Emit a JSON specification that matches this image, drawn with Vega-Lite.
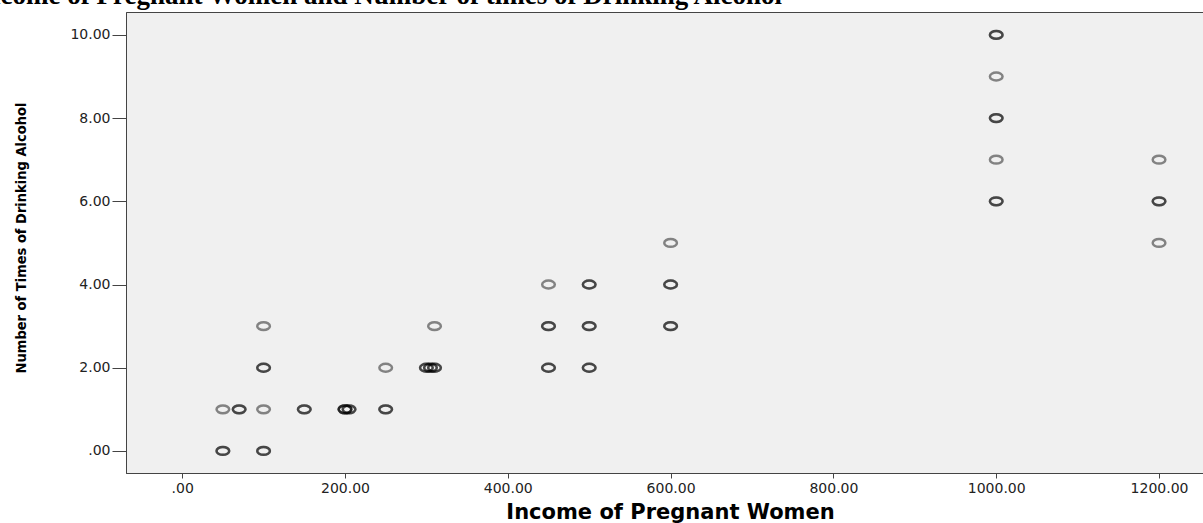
{
  "$schema": "https://vega.github.io/schema/vega-lite/v6.json",
  "width": 1077,
  "height": 461,
  "autosize": {"type": "none"},
  "padding": {"left": 126, "top": 12, "right": 0, "bottom": 50},
  "background": "white",
  "title": {
    "text": "Income of Pregnant Women and Number of times of Drinking Alcohol",
    "anchor": "start",
    "frame": "group",
    "font": "Liberation Serif",
    "fontSize": 27,
    "fontWeight": "bold",
    "color": "black",
    "baseline": "alphabetic",
    "offset": -19,
    "dx": -151
  },
  "config": {
    "view": {"fill": "#f0f0f0", "stroke": "#444", "strokeWidth": 1},
    "axis": {"grid": false}
  },
  "data": {
    "values": [
      {"income": 50, "drinks": 0}, {"income": 50, "drinks": 0},
      {"income": 100, "drinks": 0}, {"income": 100, "drinks": 0},
      {"income": 50, "drinks": 1},
      {"income": 70, "drinks": 1}, {"income": 70, "drinks": 1},
      {"income": 100, "drinks": 1},
      {"income": 150, "drinks": 1}, {"income": 150, "drinks": 1},
      {"income": 200, "drinks": 1}, {"income": 200, "drinks": 1}, {"income": 200, "drinks": 1},
      {"income": 205, "drinks": 1}, {"income": 205, "drinks": 1},
      {"income": 250, "drinks": 1}, {"income": 250, "drinks": 1},
      {"income": 100, "drinks": 2}, {"income": 100, "drinks": 2},
      {"income": 250, "drinks": 2},
      {"income": 300, "drinks": 2}, {"income": 300, "drinks": 2},
      {"income": 305, "drinks": 2}, {"income": 305, "drinks": 2},
      {"income": 310, "drinks": 2}, {"income": 310, "drinks": 2},
      {"income": 450, "drinks": 2}, {"income": 450, "drinks": 2},
      {"income": 500, "drinks": 2}, {"income": 500, "drinks": 2},
      {"income": 100, "drinks": 3},
      {"income": 310, "drinks": 3},
      {"income": 450, "drinks": 3}, {"income": 450, "drinks": 3},
      {"income": 500, "drinks": 3}, {"income": 500, "drinks": 3},
      {"income": 600, "drinks": 3}, {"income": 600, "drinks": 3},
      {"income": 450, "drinks": 4},
      {"income": 500, "drinks": 4}, {"income": 500, "drinks": 4},
      {"income": 600, "drinks": 4}, {"income": 600, "drinks": 4},
      {"income": 600, "drinks": 5},
      {"income": 1000, "drinks": 6}, {"income": 1000, "drinks": 6},
      {"income": 1200, "drinks": 6}, {"income": 1200, "drinks": 6},
      {"income": 1000, "drinks": 7},
      {"income": 1200, "drinks": 7},
      {"income": 1200, "drinks": 5},
      {"income": 1000, "drinks": 8}, {"income": 1000, "drinks": 8},
      {"income": 1000, "drinks": 9},
      {"income": 1000, "drinks": 10}, {"income": 1000, "drinks": 10}
    ]
  },
  "mark": {
    "type": "point",
    "shape": "M-1,0A1,0.62,0,1,0,1,0A1,0.62,0,1,0,-1,0Z",
    "filled": false,
    "stroke": "black",
    "strokeWidth": 2.5,
    "strokeOpacity": 0.65,
    "size": 160
  },
  "encoding": {
    "x": {
      "field": "income",
      "type": "quantitative",
      "scale": {"domain": [-69, 1254], "nice": false, "zero": false},
      "axis": {
        "values": [0, 200, 400, 600, 800, 1000, 1200],
        "labelExpr": "datum.value == 0 ? '.00' : format(datum.value, '.2f')",
        "domain": true,
        "domainColor": "#444",
        "tickColor": "#444",
        "tickSize": 5,
        "labelFont": "DejaVu Sans",
        "labelFontSize": 14,
        "labelColor": "#222",
        "labelPadding": 3,
        "title": "Income of Pregnant Women",
        "titleFont": "DejaVu Sans",
        "titleFontSize": 21,
        "titleFontWeight": "bold",
        "titleColor": "black",
        "titleX": 544,
        "titleY": 45,
        "titleAlign": "center",
        "titleBaseline": "alphabetic"
      }
    },
    "y": {
      "field": "drinks",
      "type": "quantitative",
      "scale": {"domain": [-0.53, 10.55], "nice": false, "zero": false},
      "axis": {
        "values": [0, 2, 4, 6, 8, 10],
        "labelExpr": "datum.value == 0 ? '.00' : format(datum.value, '.2f')",
        "domain": true,
        "domainColor": "#444",
        "tickColor": "#444",
        "tickSize": 14,
        "labelFont": "DejaVu Sans",
        "labelFontSize": 14,
        "labelColor": "#222",
        "labelPadding": 2,
        "title": "Number of Times  of Drinking Alcohol",
        "titleFont": "Liberation Sans Narrow, DejaVu Sans Condensed, Roboto",
        "titleFontSize": 14.5,
        "titleFontWeight": "bold",
        "titleColor": "black",
        "titleAngle": -90,
        "titleX": -101,
        "titleY": 225.5,
        "titleAlign": "center",
        "titleBaseline": "alphabetic"
      }
    }
  }
}
